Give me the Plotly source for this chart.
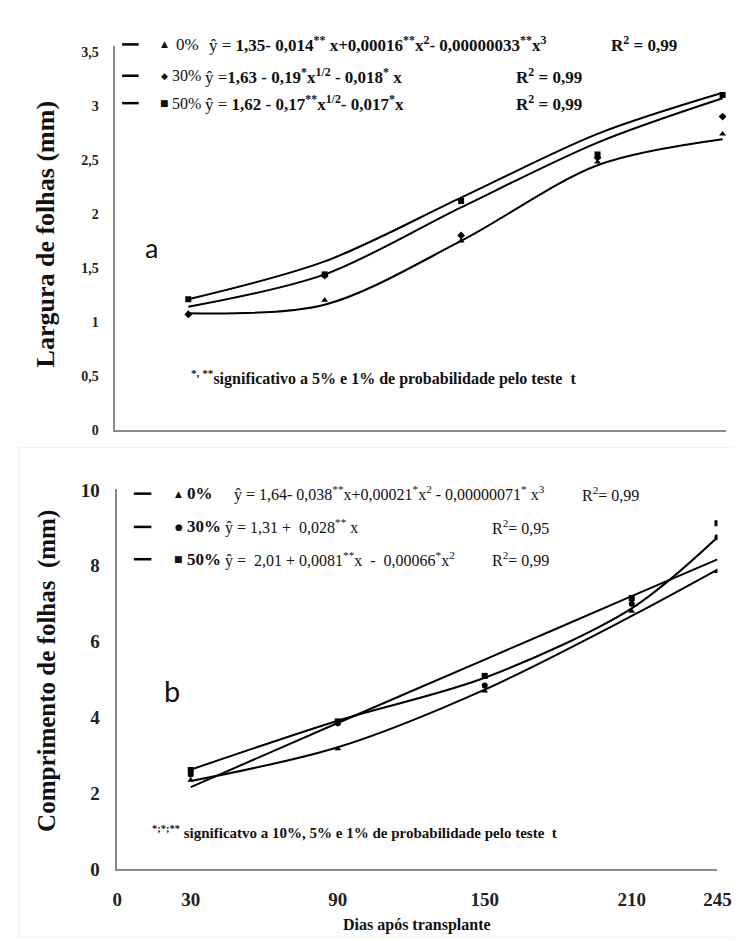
import plotly.graph_objects as go

# ---------------- data ----------------
# top panel (a) - Largura de folhas
dias_a = [30, 90, 150, 210, 265]
larg_0_obs = [1.08, 1.20, 1.75, 2.48, 2.74]
larg_30_obs = [1.07, 1.43, 1.80, 2.52, 2.90]
larg_50_obs = [1.21, 1.44, 2.12, 2.55, 3.10]
larg_0_fit = [1.08, 1.16, 1.75, 2.45, 2.69]
larg_30_fit = [1.14, 1.44, 2.06, 2.66, 3.07]
larg_50_fit = [1.21, 1.56, 2.15, 2.74, 3.12]

# bottom panel (b) - Comprimento de folhas
dias_b = [30, 90, 150, 210, 245]
comp_0_obs = [2.35, 3.18, 4.70, 6.80, 7.85]
comp_30_obs = [2.50, 3.85, 4.85, 7.00, 8.75]
comp_50_obs = [2.62, 3.90, 5.10, 7.15, 9.12]
comp_0_fit = [2.63, 3.92, 5.05, 6.88, 8.75]
comp_30_fit = [2.17, 3.86, 5.53, 7.20, 8.17]
comp_50_fit = [2.33, 3.22, 4.74, 6.68, 7.90]

xticks_b = [0, 30, 90, 150, 210, 245]
yticks_a = [0, 0.5, 1, 1.5, 2, 2.5, 3, 3.5]
yticks_b = [0, 2, 4, 6, 8, 10]

W, H = 741, 941
def px(x):
    return x / W
def py(y):
    return 1 - y / H

SERIF = "Liberation Serif, Times New Roman, Times, serif"
fig = go.Figure()

line_style = dict(color="black", width=2, shape="spline", smoothing=0.9)

# top curves
for yv in (larg_0_fit, larg_30_fit, larg_50_fit):
    fig.add_trace(go.Scatter(x=dias_a, y=yv, mode="lines", line=line_style,
                             xaxis="x", yaxis="y", showlegend=False, hoverinfo="skip"))
for yv, sym in ((larg_0_obs, "triangle-up"), (larg_30_obs, "diamond"), (larg_50_obs, "square")):
    fig.add_trace(go.Scatter(x=dias_a, y=yv, mode="markers",
                             marker=dict(symbol=sym, size=6, color="black"),
                             xaxis="x", yaxis="y", showlegend=False))

# bottom curves
for yv in (comp_0_fit, comp_30_fit, comp_50_fit):
    fig.add_trace(go.Scatter(x=dias_b, y=yv, mode="lines", line=line_style,
                             xaxis="x2", yaxis="y2", showlegend=False, hoverinfo="skip"))
for yv, sym in ((comp_0_obs, "triangle-up"), (comp_30_obs, "circle"), (comp_50_obs, "square")):
    fig.add_trace(go.Scatter(x=dias_b, y=yv, mode="markers",
                             marker=dict(symbol=sym, size=6, color="black"),
                             xaxis="x2", yaxis="y2", showlegend=False))

axis_line = dict(showline=True, linecolor="#8a8a8a", linewidth=1.5, showgrid=False,
                 zeroline=False, ticks="")

fig.update_layout(
    width=W, height=H,
    margin=dict(l=0, r=0, t=0, b=0),
    paper_bgcolor="white", plot_bgcolor="white",
    separators=",.",
    font=dict(family=SERIF, color="#111"),
    xaxis=dict(domain=[px(105), px(732)], range=[-2.1, 266.6], showticklabels=False,
               anchor="y", **axis_line),
    yaxis=dict(domain=[py(422), py(30)], range=[0, 3.55], tickvals=yticks_a,
               tickfont=dict(family=SERIF, size=14, color="#222", weight="bold"),
               ticklabelstandoff=12, anchor="x", **axis_line),
    xaxis2=dict(domain=[px(107), px(723)], range=[0, 245], tickvals=xticks_b,
                tickfont=dict(family=SERIF, size=19, color="#222", weight="bold"),
                ticklabelstandoff=12, anchor="y2", **axis_line),
    yaxis2=dict(domain=[py(871), py(482)], range=[0, 10.03], tickvals=yticks_b,
                tickfont=dict(family=SERIF, size=19, color="#222", weight="bold"),
                ticklabelstandoff=12, anchor="x2", **axis_line),
)

shapes = []
annos = []

def txt(x, y, s, size, family=SERIF, bold=False, xanchor="left", angle=0, color="#111"):
    annos.append(dict(x=px(x), y=py(y), xref="paper", yref="paper", text=(f"<b>{s}</b>" if bold else s),
                      showarrow=False, xanchor=xanchor, yanchor="middle", textangle=angle,
                      borderpad=0, font=dict(family=family, size=size, color=color)))

def dash(x0, x1, y):
    shapes.append(dict(type="line", xref="paper", yref="paper", x0=px(x0), x1=px(x1),
                       y0=py(y), y1=py(y), line=dict(color="black", width=2.5)))

# faint frame of bottom panel
shapes.append(dict(type="rect", xref="paper", yref="paper", x0=px(6), x1=px(740), y0=py(940), y1=py(440),
                   line=dict(color="#f2f2f2", width=1)))

# ---- top legend ----
rows_a = [28, 60, 88]
syms_a = ["▲", "◆", "■"]
pct_a = ["0%", "30%", "50%"]
pct_x_a = [166, 162, 162]
pct_size_a = [17, 16, 16]
eq_x_a = [200, 196, 196]
eqs_a = [
    "ŷ = <b>1,35- 0,014<sup>**</sup> x+0,00016<sup>**</sup>x<sup>2</sup>- 0,00000033<sup>**</sup>x<sup>3</sup></b>",
    "ŷ =<b>1,63 - 0,19<sup>*</sup>x<sup>1/2</sup> - 0,018<sup>*</sup> x</b>",
    "ŷ = <b>1,62 - 0,17<sup>**</sup>x<sup>1/2</sup>- 0,017<sup>*</sup>x</b>",
]
r2_x_a = [613, 515, 515]
for i, y in enumerate(rows_a):
    dash(112, 129, y)
    txt(155, y, syms_a[i], 9, family="DejaVu Sans", xanchor="center")
    txt(pct_x_a[i], y, pct_a[i], pct_size_a[i])
    txt(eq_x_a[i], y, eqs_a[i], 17)
    txt(r2_x_a[i], y, "R<sup>2</sup> = 0,99", 17, bold=True)

# ---- bottom legend ----
rows_b = [487, 521, 554]
syms_b = ["▲", "●", "■"]
pct_b = ["0%", "30%", "50%"]
eq_x_b = [226, 217, 217]
eqs_b = [
    "ŷ = 1,64- 0,038<sup>**</sup>x+0,00021<sup>*</sup>x<sup>2</sup> - 0,00000071<sup>*</sup> x<sup>3</sup>",
    "ŷ = 1,31 +  0,028<sup>**</sup> x",
    "ŷ =  2,01 + 0,0081<sup>**</sup>x  -  0,00066<sup>*</sup>x<sup>2</sup>",
]
r2_b = ["R<sup>2</sup>= 0,99", "R<sup>2</sup>= 0,95", "R<sup>2</sup>= 0,99"]
r2_x_b = [583, 491, 491]
for i, y in enumerate(rows_b):
    dash(124, 142, y)
    txt(170, y, syms_b[i], 9, family="DejaVu Sans", xanchor="center")
    txt(178, y, pct_b[i], 17, bold=True)
    txt(eq_x_b[i], y, eqs_b[i], 16)
    txt(r2_x_b[i], y, r2_b[i], 16)

# footnotes
txt(182, 368, "<sup>*, **</sup>significativo a 5% e 1% de probabilidade pelo teste  t", 16, bold=True)
txt(142, 833, "<sup>*;*;**</sup> significatvo a 10%, 5% e 1% de probabilidade pelo teste  t", 15, bold=True)

# panel letters
txt(142, 235, "a", 27, family="Lato", xanchor="center")
txt(163, 688, "b", 29, family="Lato", xanchor="center")

# axis titles
txt(33, 222, "Largura de folhas (mm)", 26, bold=True, xanchor="center", angle=-90)
txt(35, 668, "Comprimento de folhas  (mm)", 25, bold=True, xanchor="center", angle=-90)
txt(415, 928, "Dias após transplante", 16, bold=True, xanchor="center")

fig.update_layout(shapes=shapes, annotations=annos)
fig.write_html("out.html")
